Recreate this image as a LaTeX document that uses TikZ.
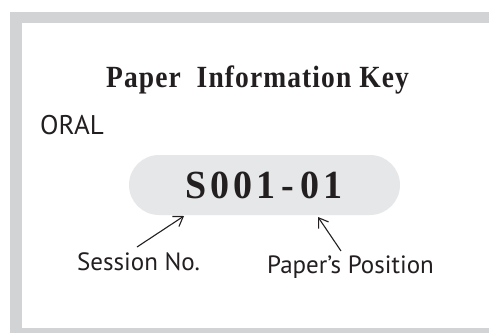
\documentclass[tikz,border=0pt]{standalone}
\usepackage{fontspec}
\usepackage{graphicx}
\setmainfont{Liberation Serif}
\newfontfamily\labelfont{PT Sans}
\newfontfamily\titlefont[LetterSpace=4]{Liberation Serif}
\newfontfamily\codefont[LetterSpace=11]{Liberation Serif}
\usetikzlibrary{arrows.meta}
\definecolor{framegray}{HTML}{D1D3D4}
\definecolor{pillgray}{HTML}{E6E7E8}
\definecolor{ink}{HTML}{231F20}
\begin{document}
\begin{tikzpicture}[x=1pt,y=-1pt,
  every node/.style={text=ink, inner sep=0pt},
  label text/.style={font=\labelfont\fontsize{25}{25}\selectfont},
  pill/.style={fill=pillgray, rounded corners=30pt, minimum width=271pt,
    minimum height=60pt},
  pointer/.style={draw=ink, line width=1.1pt,
    -{Straight Barb[length=9pt, width=12pt, line width=1.1pt]}}]
  \useasboundingbox (0,0) rectangle (489,332);
  % grey frame with white panel
  \fill[framegray] (10,12) rectangle (495,340);
  \fill[white] (22,23) rectangle (495,328);
  % headings
  \node[anchor=base, font=\titlefont\bfseries\fontsize{27.5}{27.5}\selectfont]
    (title) at (257.5,87) {\scalebox{1}[1.12]{Paper\ \ Information Key}};
  \node[anchor=base west, font=\labelfont\fontsize{27}{27}\selectfont]
    (oral) at (40,134) {ORAL};
  % key code
  \node[pill] (key) at (264.5,185) {};
  \node[anchor=base, font=\codefont\bfseries\fontsize{38}{38}\selectfont]
    (code) at (264,198) {\scalebox{1}[1.05]{S001\hspace{0.16em}-\hspace{0.16em}01}};
  % explanations
  \node[label text, anchor=base] (session) at (138.5,270) {Session No.};
  \node[label text, anchor=base] (position) at (350.5,273) {Paper’s Position};
  \coordinate (sessfrom) at (137,247);
  \coordinate (sessto) at (184,216);
  \coordinate (posfrom) at (341,251);
  \coordinate (posto) at (318,217);
  \draw[pointer] (sessfrom) -- (sessto);
  \draw[pointer] (posfrom) -- (posto);
\end{tikzpicture}
\end{document}
